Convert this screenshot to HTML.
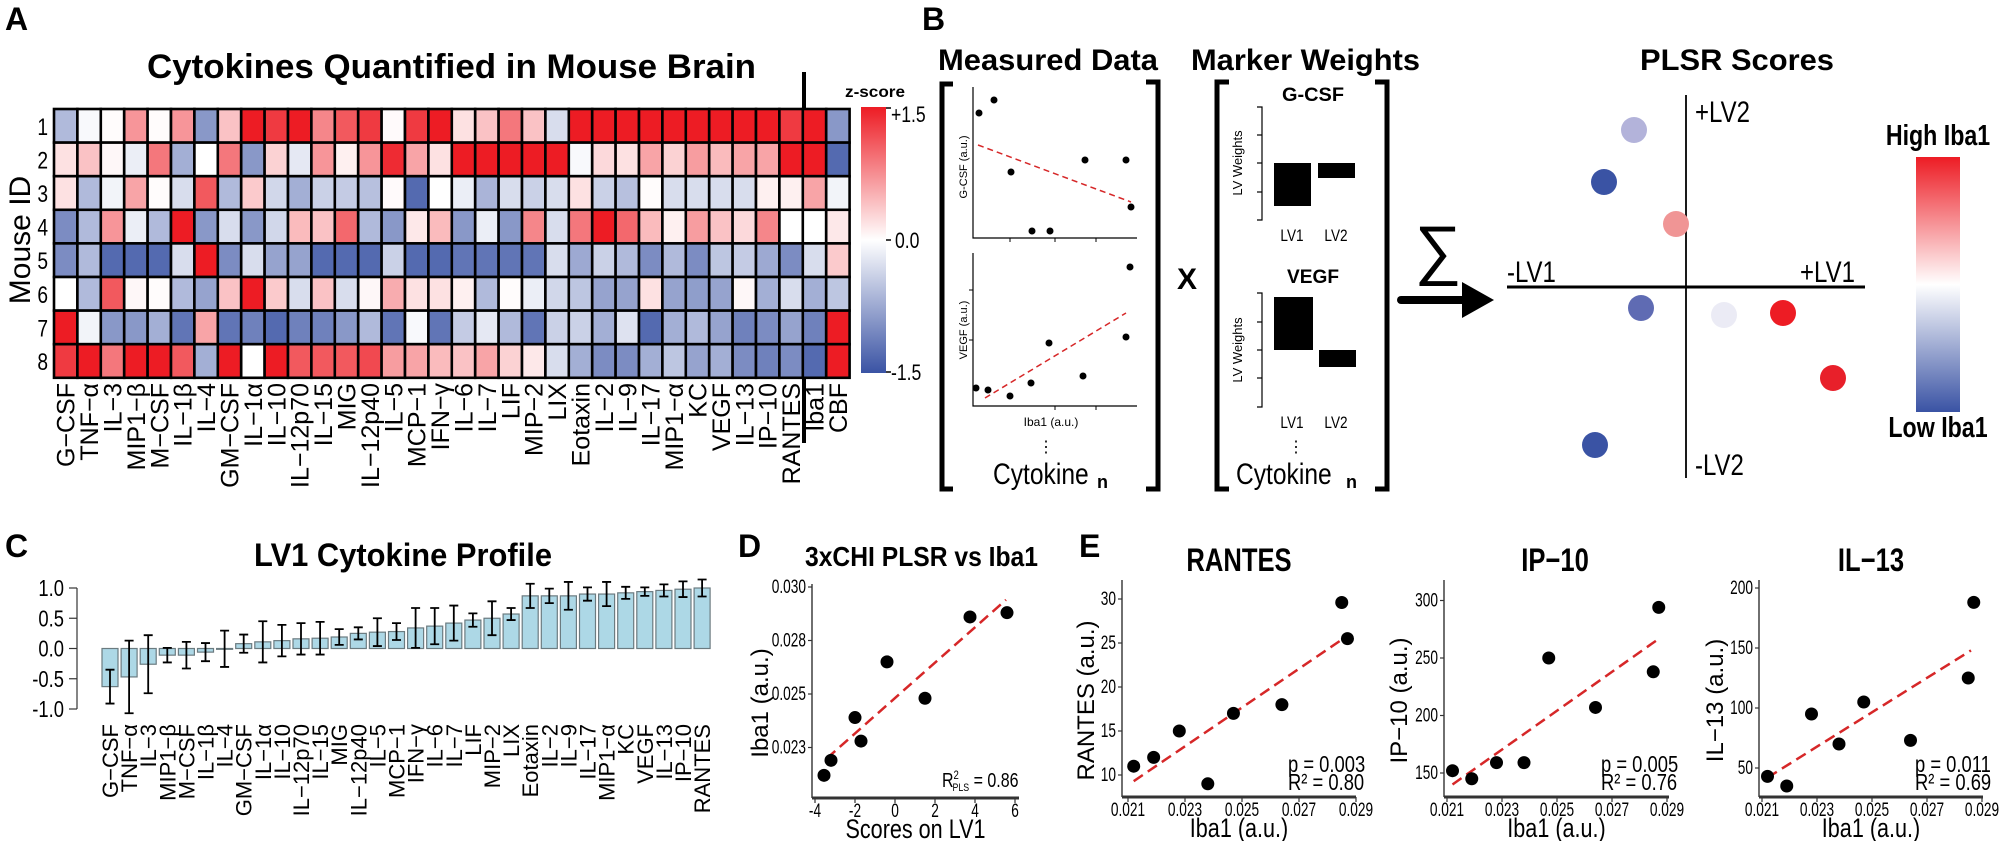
<!DOCTYPE html>
<html><head><meta charset="utf-8">
<style>
html,body{margin:0;padding:0;background:#fff;}
svg{display:block;font-family:"Liberation Sans",Arial,sans-serif;}
</style></head>
<body>
<svg id="fig" width="2000" height="841" viewBox="0 0 2000 841" xmlns="http://www.w3.org/2000/svg">
<defs>
<linearGradient id="zgrad" x1="0" y1="0" x2="0" y2="1">
<stop offset="0" stop-color="#ED1C24"/><stop offset="0.5" stop-color="#ffffff"/><stop offset="1" stop-color="#3A53A4"/>
</linearGradient>
</defs>
<text x="5" y="30" font-size="32" font-weight="bold">A</text>
<text x="922" y="30" font-size="32" font-weight="bold">B</text>
<text x="5" y="557" font-size="32" font-weight="bold">C</text>
<text x="738" y="557" font-size="32" font-weight="bold">D</text>
<text x="1079" y="557" font-size="32" font-weight="bold">E</text>

<text x="147" y="78" font-size="34" font-weight="bold" textLength="609" lengthAdjust="spacingAndGlyphs">Cytokines Quantified in Mouse Brain</text>
<text transform="translate(30,240) rotate(-90)" text-anchor="middle" font-size="30">Mouse ID</text>
<text x="845" y="97" font-size="16" font-weight="bold" textLength="60" lengthAdjust="spacingAndGlyphs">z-score</text>
<rect x="861" y="107" width="25" height="266" fill="url(#zgrad)"/>
<g stroke="#000" stroke-width="1.5">
<line x1="886" y1="108" x2="891" y2="108"/><line x1="886" y1="240" x2="891" y2="240"/><line x1="886" y1="372" x2="891" y2="372"/>
</g>
<text transform="translate(891,122) scale(0.8,1)" font-size="22">+1.5</text>
<text transform="translate(895,248) scale(0.8,1)" font-size="22">0.0</text>
<text transform="translate(891,380) scale(0.8,1)" font-size="22">-1.5</text>
<line x1="804" y1="72" x2="804" y2="443" stroke="#000" stroke-width="4"/>
<g id="heatmap"></g>

<text x="938" y="70" font-size="30" font-weight="bold" textLength="220" lengthAdjust="spacingAndGlyphs">Measured Data</text>
<text x="1191" y="70" font-size="30" font-weight="bold" textLength="229" lengthAdjust="spacingAndGlyphs">Marker Weights</text>
<text x="1640" y="70" font-size="30" font-weight="bold" textLength="194" lengthAdjust="spacingAndGlyphs">PLSR Scores</text>
<g fill="none" stroke="#000" stroke-width="5">
<path d="M953,84 H942 V489 H953"/>
<path d="M1146,82 H1158 V489 H1146"/>
<path d="M1229,82 H1217 V489 H1229"/>
<path d="M1375,82 H1387 V489 H1375"/>
</g>
<g>
<path d="M973,87 V238 H1137" fill="none" stroke="#000" stroke-width="1.2"/>
<g stroke="#000" stroke-width="1"><line x1="1010" y1="238" x2="1010" y2="242"/><line x1="1055" y1="238" x2="1055" y2="242"/><line x1="1096" y1="238" x2="1096" y2="242"/></g>
<line x1="978" y1="145" x2="1131" y2="202" stroke="#D62728" stroke-width="1.5" stroke-dasharray="6,4"/>
<g fill="#000"><circle cx="979" cy="113" r="3.5"/><circle cx="994" cy="100" r="3.5"/><circle cx="1011" cy="172" r="3.5"/><circle cx="1032" cy="231" r="3.5"/><circle cx="1050" cy="231" r="3.5"/><circle cx="1085" cy="160" r="3.5"/><circle cx="1126" cy="160" r="3.5"/><circle cx="1131" cy="207" r="3.5"/></g>
<text transform="translate(967,167) rotate(-90)" text-anchor="middle" font-size="11">G-CSF (a.u.)</text>
</g>
<g>
<path d="M973,253 V406 H1137" fill="none" stroke="#000" stroke-width="1.2"/>
<g stroke="#000" stroke-width="1"><line x1="969" y1="290" x2="973" y2="290"/><line x1="969" y1="340" x2="973" y2="340"/><line x1="1055" y1="406" x2="1055" y2="410"/><line x1="1096" y1="406" x2="1096" y2="410"/></g>
<line x1="985" y1="398" x2="1126" y2="313" stroke="#D62728" stroke-width="1.5" stroke-dasharray="6,4"/>
<g fill="#000"><circle cx="976" cy="388" r="3.5"/><circle cx="988" cy="390" r="3.5"/><circle cx="1010" cy="396" r="3.5"/><circle cx="1031" cy="383" r="3.5"/><circle cx="1049" cy="343" r="3.5"/><circle cx="1083" cy="376" r="3.5"/><circle cx="1126" cy="337" r="3.5"/><circle cx="1130" cy="267" r="3.5"/></g>
<text transform="translate(967,330) rotate(-90)" text-anchor="middle" font-size="11">VEGF (a.u.)</text>
<text x="1051" y="426" text-anchor="middle" font-size="12">Iba1 (a.u.)</text>
</g>
<text x="1046" y="452" text-anchor="middle" font-size="16">⋮</text>
<text transform="translate(993,484) scale(0.82,1)" font-size="30">Cytokine</text>
<text x="1097" y="488" font-size="18" font-weight="bold">n</text>
<text x="1187" y="289" text-anchor="middle" font-size="30" font-weight="bold">X</text>
<g>
<text x="1313" y="101" text-anchor="middle" font-size="19" font-weight="bold" textLength="62" lengthAdjust="spacingAndGlyphs">G-CSF</text>
<path d="M1257,107 H1262 V220 H1257" fill="none" stroke="#000" stroke-width="1.2"/>
<g stroke="#000" stroke-width="1.2"><line x1="1257" y1="135" x2="1262" y2="135"/><line x1="1257" y1="163" x2="1262" y2="163"/><line x1="1257" y1="192" x2="1262" y2="192"/></g>
<rect x="1274" y="163" width="37" height="43" fill="#000"/>
<rect x="1318" y="163" width="37" height="15" fill="#000"/>
<text transform="translate(1292,241) scale(0.8,1)" text-anchor="middle" font-size="17">LV1</text>
<text transform="translate(1336,241) scale(0.8,1)" text-anchor="middle" font-size="17">LV2</text>
<text transform="translate(1242,163) rotate(-90)" text-anchor="middle" font-size="13">LV Weights</text>
</g>
<g>
<text x="1313" y="283" text-anchor="middle" font-size="19" font-weight="bold" textLength="52" lengthAdjust="spacingAndGlyphs">VEGF</text>
<path d="M1257,293 H1262 V407 H1257" fill="none" stroke="#000" stroke-width="1.2"/>
<g stroke="#000" stroke-width="1.2"><line x1="1257" y1="322" x2="1262" y2="322"/><line x1="1257" y1="350" x2="1262" y2="350"/><line x1="1257" y1="378" x2="1262" y2="378"/></g>
<rect x="1274" y="297" width="39" height="53" fill="#000"/>
<rect x="1319" y="350" width="37" height="17" fill="#000"/>
<text transform="translate(1292,428) scale(0.8,1)" text-anchor="middle" font-size="17">LV1</text>
<text transform="translate(1336,428) scale(0.8,1)" text-anchor="middle" font-size="17">LV2</text>
<text transform="translate(1242,350) rotate(-90)" text-anchor="middle" font-size="13">LV Weights</text>
</g>
<text x="1296" y="452" text-anchor="middle" font-size="16">⋮</text>
<text transform="translate(1236,484) scale(0.82,1)" font-size="30">Cytokine</text>
<text x="1346" y="488" font-size="18" font-weight="bold">n</text>
<text x="1438" y="272" text-anchor="middle" font-size="66">∑</text>
<g>
<line x1="1401" y1="300" x2="1466" y2="300" stroke="#000" stroke-width="8" stroke-linecap="round"/>
<polygon points="1462,282 1494,300 1462,318" fill="#000"/>
</g>
<line x1="1507" y1="287" x2="1865" y2="287" stroke="#000" stroke-width="3"/>
<line x1="1686" y1="95" x2="1686" y2="478" stroke="#000" stroke-width="1.8"/>
<text transform="translate(1695,122) scale(0.8,1)" font-size="30">+LV2</text>
<text transform="translate(1507,282) scale(0.8,1)" font-size="30">-LV1</text>
<text transform="translate(1800,282) scale(0.8,1)" font-size="30">+LV1</text>
<text transform="translate(1695,475) scale(0.8,1)" font-size="30">-LV2</text>
<g>
<ellipse cx="1634" cy="130" rx="13" ry="13" fill="#B3B3DA"/>
<ellipse cx="1604" cy="182" rx="13" ry="13" fill="#3A53A4"/>
<ellipse cx="1676" cy="224" rx="13" ry="13" fill="#F09595"/>
<ellipse cx="1641" cy="308" rx="13" ry="13" fill="#5F6BB3"/>
<ellipse cx="1724" cy="315" rx="13" ry="13" fill="#EBEBF5"/>
<ellipse cx="1783" cy="313" rx="13" ry="13" fill="#ED1C24"/>
<ellipse cx="1833" cy="378" rx="13" ry="13" fill="#E8202A"/>
<ellipse cx="1595" cy="445" rx="13" ry="13" fill="#3A53A4"/>
</g>
<text transform="translate(1938,145) scale(0.8,1)" text-anchor="middle" font-size="29" font-weight="bold">High Iba1</text>
<rect x="1916" y="157" width="44" height="255" fill="url(#zgrad)"/>
<text transform="translate(1938,437) scale(0.8,1)" text-anchor="middle" font-size="29" font-weight="bold">Low Iba1</text>

<text x="254" y="566" font-size="32" font-weight="bold" textLength="298" lengthAdjust="spacingAndGlyphs">LV1 Cytokine Profile</text>
<g id="barchart"></g>

<text x="805" y="566" font-size="28" font-weight="bold" textLength="233" lengthAdjust="spacingAndGlyphs">3xCHI PLSR vs Iba1</text>
<g id="scatterD"></g>
<g id="scatterE"></g>
</svg>

<script>
const heatCols = ["G\u2212CSF","TNF\u2212\u03b1","IL\u22123","MIP1\u2212\u03b2","M\u2212CSF","IL\u22121\u03b2","IL\u22124","GM\u2212CSF","IL\u22121\u03b1","IL\u221210","IL\u221212p70","IL\u221215","MIG","IL\u221212p40","IL\u22125","MCP\u22121","IFN\u2212\u03b3","IL\u22126","IL\u22127","LIF","MIP\u22122","LIX","Eotaxin","IL\u22122","IL\u22129","IL\u221217","MIP1\u2212\u03b1","KC","VEGF","IL\u221213","IP\u221210","RANTES","Iba1","CBF"];
const heatRows = ["1","2","3","4","5","6","7","8"];
const heatRow1 = [-0.6,-0.05,0.02,0.7,0.02,0.7,-0.9,0.4,1.5,1.3,1.5,0.8,1.1,1.3,0.03,1.3,1.5,0.2,0.4,0.9,0.4,-0.3,1.5,1.5,1.5,1.5,1.5,1.5,1.5,1.5,1.5,1.3,1.5,-0.9];
const heatRow2 = [0.2,0.4,0.05,-0.15,0.9,-0.7,0,0.9,-0.9,0.3,-0.2,0.7,0.1,0.7,1.4,0.6,0.2,1.5,1.5,1.5,1.5,1.5,-0.05,0.25,0.2,0.6,0.3,0.65,0.45,0.6,0.6,1.5,1.5,-1.3];
const heatRow3 = [0.2,-0.6,-0.1,0.6,0.02,-0.3,1.1,-0.6,0.35,-0.35,-0.7,-0.4,-0.45,-0.55,0.03,-1.3,0,-0.15,-0.65,-0.3,-0.4,-0.3,0.2,-0.4,-0.55,0.02,-0.3,-0.3,-0.3,-0.3,0.1,0.1,0.6,-0.1];
const heatRow4 = [-1.0,-0.6,0.7,-0.15,-0.6,1.5,-0.9,-0.3,-0.9,-0.35,0.45,0.4,1.0,-0.6,-0.9,0.15,0.45,-0.9,-0.15,-0.9,0.8,-0.3,0.9,1.5,1.0,0.45,0.1,0.65,0.4,0.25,0.8,0,0,0.15];
const heatRow5 = [-1.0,-0.6,-1.3,-1.3,-1.3,-0.3,1.5,-1.0,-0.3,-0.8,-0.8,-1.3,-1.3,-1.3,-0.4,-1.3,-1.3,-1.2,-1.2,-1.2,-1.2,-0.3,-0.75,-0.4,-0.6,-1.0,-0.6,-1.0,-0.5,-0.45,-0.75,-1.0,-0.3,0.35];
const heatRow6 = [0,-0.6,1.1,0.05,0.02,-0.6,-0.8,0.4,1.5,0.35,-0.3,0.4,-0.3,0.05,0.55,0.2,0.2,0.1,-0.6,0.02,-0.15,-0.35,-0.5,-0.8,-0.8,0.2,-0.8,-0.85,-0.8,0.05,-0.7,-0.3,-0.7,-0.5];
const heatRow7 = [1.5,-0.1,-0.9,-0.9,-0.7,-1.2,0.6,-1.2,-1.1,-1.3,-1.1,-1.1,-0.9,-0.6,-1.2,-0.05,-1.2,-0.45,-0.2,-0.6,-1.2,-0.4,-0.4,-0.7,-0.25,-1.3,-0.7,-0.6,-0.8,-1.1,-1.0,-0.8,-1.1,1.5];
const heatRow8 = [1.3,1.5,0.9,1.5,1.5,1.1,-0.7,1.5,0,1.5,1.1,1.1,1.1,1.2,0.65,0.6,0.45,0.4,0.6,0.3,0.15,-0.3,-0.7,-1.0,-1.0,-0.7,-0.5,-0.8,-0.7,-1.0,-1.1,-1.0,-1.3,1.5];
const heatValues = [heatRow1,heatRow2,heatRow3,heatRow4,heatRow5,heatRow6,heatRow7,heatRow8];

const lvCats = ["G\u2212CSF","TNF\u2212\u03b1","IL\u22123","MIP1\u2212\u03b2","M\u2212CSF","IL\u22121\u03b2","IL\u22124","GM\u2212CSF","IL\u22121\u03b1","IL\u221210","IL\u221212p70","IL\u221215","MIG","IL\u221212p40","IL\u22125","MCP\u22121","IFN\u2212\u03b3","IL\u22126","IL\u22127","LIF","MIP\u22122","LIX","Eotaxin","IL\u22122","IL\u22129","IL\u221217","MIP1\u2212\u03b1","KC","VEGF","IL\u221213","IP\u221210","RANTES"];
const lvValues = [-0.63,-0.47,-0.26,-0.11,-0.11,-0.06,-0.005,0.08,0.11,0.13,0.16,0.17,0.19,0.25,0.27,0.28,0.34,0.37,0.42,0.47,0.5,0.57,0.87,0.87,0.87,0.9,0.9,0.92,0.94,0.96,0.98,1.0];
const lvErrors = [0.28,0.6,0.48,0.12,0.22,0.15,0.3,0.15,0.34,0.26,0.26,0.27,0.13,0.1,0.23,0.14,0.33,0.3,0.29,0.11,0.28,0.1,0.2,0.12,0.23,0.11,0.2,0.1,0.07,0.1,0.13,0.14];
const lvTicks = [1.0,0.5,0.0,-0.5,-1.0];
const lvTickLabels = ["1.0","0.5","0.0","-0.5","-1.0"];

const dScores = [-3.55,-3.2,-2.0,-1.7,-0.4,1.5,3.75,5.6];
const dIba1 = [0.0212,0.0219,0.0239,0.0228,0.0265,0.0248,0.0286,0.0288];
const dFitX = [-3.4,5.55];
const dFitY = [0.0220,0.0294];
const dXTicks = [-4,-2,0,2,4,6];
const dYTicks = [0.0300,0.0275,0.0250,0.0225];
const dYTickLabels = ["0.030","0.028","0.025","0.023"];

const eIba1 = [0.0212,0.0219,0.0228,0.0238,0.0247,0.0264,0.0285,0.0287];
const eRantes = [11.0,12.0,15.0,9.0,17.0,18.0,29.6,25.5];
const eIp10 = [152,145,159,159,250,207,238,294];
const eIl13 = [43,35,95,70,105,73,125,188];
const eRantesFit = [9.3,25.6];
const eIp10Fit = [140,265];
const eIl13Fit = [42,148];
const eFitX = [0.0212,0.0286];
const eXTicks = [0.021,0.023,0.025,0.027,0.029];
const eRantesTicks = [10,15,20,25,30];
const eIp10Ticks = [150,200,250,300];
const eIl13Ticks = [50,100,150,200];
const eStats = ["p = 0.003","R\u00b2 = 0.80","p = 0.005","R\u00b2 = 0.76","p = 0.011","R\u00b2 = 0.69"];

const NS = "http://www.w3.org/2000/svg";
function el(tag, attrs, parent){
  const e = document.createElementNS(NS, tag);
  for (const k in attrs) e.setAttribute(k, attrs[k]);
  parent.appendChild(e);
  return e;
}

(function(){
  const g = document.getElementById('heatmap');
  const x0 = 54, y0 = 109, cw = 23.4, ch = 33.6;
  function col(v){
    let t = Math.max(-1, Math.min(1, v/1.5));
    let c = t >= 0 ? [237,28,36] : [58,83,164];
    let a = Math.abs(t);
    const r = Math.round(255 + (c[0]-255)*a), gg = Math.round(255 + (c[1]-255)*a), b = Math.round(255 + (c[2]-255)*a);
    return `rgb(${r},${gg},${b})`;
  }
  heatValues.forEach((row, i) => {
    row.forEach((v, j) => {
      const r = el('rect', {x: x0 + j*cw, y: y0 + i*ch, width: cw, height: ch, fill: col(v), stroke: '#000', 'stroke-width': 2.6}, g);
      
      
    });
    const lab = el('text', {transform: `translate(${x0-6},${y0 + i*ch + ch/2 + 9}) scale(0.8,1)`, 'text-anchor': 'end', 'font-size': 24}, g);
    lab.textContent = heatRows[i];
    
    
  });
  heatCols.forEach((c, j) => {
    const t = el('text', {transform: `translate(${x0 + j*cw + cw/2 + 9},383) rotate(-90)`, 'text-anchor': 'end', 'font-size': 25}, g);
    t.textContent = c;
    
    
  });
})();

(function(){
  const g = document.getElementById('barchart');
  const y = v => 648.5 - v*60.5;
  const xc = i => 110 + i*19.1;
  const bw = 16;
  const ax = el('line', {x1: 77, y1: y(1), x2: 77, y2: y(-1), stroke: '#333', 'stroke-width': 1.2}, g);
  
  
  lvTicks.forEach((v, i) => {
    el('line', {x1: 69, y1: y(v), x2: 77, y2: y(v), stroke: '#333', 'stroke-width': 1.2}, g);
    const t = el('text', {transform: `translate(64,${y(v)+8}) scale(0.8,1)`, 'text-anchor': 'end', 'font-size': 23}, g);
    t.textContent = lvTickLabels[i];
    
    
  });
  lvValues.forEach((v, i) => {
    const top = Math.min(y(v), y(0)), h = Math.abs(y(v) - y(0));
    const b = el('rect', {x: xc(i) - bw/2, y: top, width: bw, height: Math.max(h, 0.8), fill: '#ADD8E6', stroke: '#6b7b80', 'stroke-width': 1.2}, g);
    
    
    const e = lvErrors[i];
    const p = el('path', {d: `M${xc(i)},${y(v+e)} V${y(v-e)} M${xc(i)-4.5},${y(v+e)} H${xc(i)+4.5} M${xc(i)-4.5},${y(v-e)} H${xc(i)+4.5}`, stroke: '#000', 'stroke-width': 1.8, fill: 'none'}, g);
    
    
    const t = el('text', {transform: `translate(${xc(i)+8},724) rotate(-90)`, 'text-anchor': 'end', 'font-size': 22}, g);
    t.textContent = lvCats[i];
    
    
  });
})();

function scatter(g, o){
  const sx = v => o.px0 + (v - o.vx0) * o.kx;
  const sy = v => o.py0 - (v - o.vy0) * o.ky;
  el('line', {x1: o.axL, y1: o.axT, x2: o.axL, y2: o.axB, stroke: '#222', 'stroke-width': 1.3}, g);
  el('line', {x1: o.axL, y1: o.axB, x2: o.axR, y2: o.axB, stroke: '#333', 'stroke-width': 3}, g);
  o.xticks.forEach((v, i) => {
    el('line', {x1: sx(v), y1: o.axB, x2: sx(v), y2: o.axB + 5, stroke: '#333', 'stroke-width': 1.2}, g);
    const t = el('text', {transform: `translate(${sx(v)},${o.axB + 19}) scale(0.72,1)`, 'text-anchor': 'middle', 'font-size': 19}, g);
    t.textContent = o.xlabels[i];
    
    
  });
  o.yticks.forEach((v, i) => {
    el('line', {x1: o.axL - 4, y1: sy(v), x2: o.axL, y2: sy(v), stroke: '#333', 'stroke-width': 1.2}, g);
    const t = el('text', {transform: `translate(${o.axL - 6},${sy(v) + 6}) scale(0.72,1)`, 'text-anchor': 'end', 'font-size': 19}, g);
    t.textContent = o.ylabels[i];
    
    
  });
  const fl = el('line', {x1: sx(o.fitX[0]), y1: sy(o.fitY[0]), x2: sx(o.fitX[1]), y2: sy(o.fitY[1]), stroke: '#D62728', 'stroke-width': 2.5, 'stroke-dasharray': '11,6'}, g);
  
  
  o.xs.forEach((v, i) => {
    const c = el('circle', {cx: sx(v), cy: sy(o.ys[i]), r: 6.5, fill: '#000'}, g);
    
    
  });
  const xt = el('text', {transform: `translate(${(o.axL + o.axR)/2},${o.axB + 40}) scale(0.8,1)`, 'text-anchor': 'middle', 'font-size': 27}, g);
  xt.textContent = o.xtitle;
  
  
  const yt = el('text', {transform: `translate(${o.ytX},${(o.axT + o.axB)/2 + 12}) rotate(-90)`, 'text-anchor': 'middle', 'font-size': 24}, g);
  yt.textContent = o.ytitle;
  
  
}

(function(){
  const g = document.getElementById('scatterD');
  scatter(g, {px0: 895, vx0: 0, kx: 20, py0: 587, vy0: 0.030, ky: 53.5/0.0025,
    axL: 812, axR: 1019, axT: 584, axB: 798,
    xticks: dXTicks, xlabels: dXTicks.map(String), yticks: dYTicks, ylabels: dYTickLabels,
    xs: dScores, ys: dIba1, fitX: dFitX, fitY: dFitY,
    xtitle: "Scores on LV1", ytitle: "Iba1 (a.u.)", ytX: 768});
  const r = el('text', {transform: 'translate(942,787) scale(0.8,1)', 'font-size': 20}, g);
  r.innerHTML = 'R<tspan dy="-8" font-size="12">2</tspan><tspan dy="12" dx="-8" font-size="11">PLS</tspan><tspan dy="-4"> = 0.86</tspan>';
  
  
})();

(function(){
  const root = document.getElementById('scatterE');
  const panels = [
    {title: "RANTES", tx: 1239, axL: 1122, axR: 1356, px0: 1128, kx: 57/0.002, ys: eRantes, fit: eRantesFit, yt: eRantesTicks, py0: 775, vy0: 10, ky: 44/5, ytitle: "RANTES (a.u.)", ytX: 1094, st: 0},
    {title: "IP\u221210", tx: 1555, axL: 1444, axR: 1669, px0: 1447, kx: 55/0.002, ys: eIp10, fit: eIp10Fit, yt: eIp10Ticks, py0: 773, vy0: 150, ky: 57.5/50, ytitle: "IP\u221210 (a.u.)", ytX: 1407, st: 2},
    {title: "IL\u221213", tx: 1871, axL: 1759, axR: 1983, px0: 1762, kx: 55/0.002, ys: eIl13, fit: eIl13Fit, yt: eIl13Ticks, py0: 768, vy0: 50, ky: 60/50, ytitle: "IL\u221213 (a.u.)", ytX: 1723, st: 4}
  ];
  panels.forEach(p => {
    const g = el('g', {}, root);
    
    
    const t = el('text', {transform: `translate(${p.tx},571) scale(0.8,1)`, 'text-anchor': 'middle', 'font-size': 32, 'font-weight': 'bold'}, g);
    t.textContent = p.title;
    
    
    scatter(g, {px0: p.px0, vx0: 0.021, kx: p.kx, py0: p.py0, vy0: p.vy0, ky: p.ky,
      axL: p.axL, axR: p.axR, axT: 580, axB: 797,
      xticks: eXTicks, xlabels: eXTicks.map(v => v.toFixed(3)), yticks: p.yt, ylabels: p.yt.map(String),
      xs: eIba1, ys: p.ys, fitX: eFitX, fitY: p.fit,
      xtitle: "Iba1 (a.u.)", ytitle: p.ytitle, ytX: p.ytX});
    const a = el('text', {transform: `translate(${p.axR - 68},772) scale(0.8,1)`, 'font-size': 23}, g);
    a.textContent = eStats[p.st];
    
    
    const b = el('text', {transform: `translate(${p.axR - 68},790) scale(0.8,1)`, 'font-size': 23}, g);
    b.textContent = eStats[p.st + 1];
    
    
  });
})();
</script>
</body></html>
